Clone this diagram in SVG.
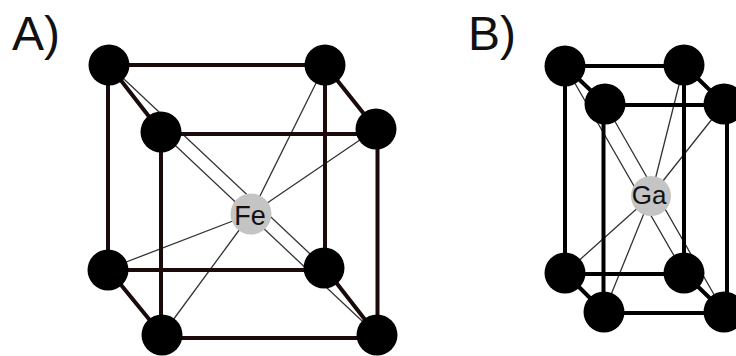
<svg xmlns="http://www.w3.org/2000/svg" width="736" height="356" viewBox="0 0 736 356">
<style>
.thin{stroke:#333;stroke-width:1.3;fill:none}
.a{stroke:#1a0a0a;stroke-width:4;fill:none}
.b{stroke:#000;stroke-width:4;fill:none}
.atom{fill:#000}
.center{fill:#c4c4c4}
text{font-family:"Liberation Sans",Arial,sans-serif;fill:#111}
.big{font-size:48px}
.el{text-anchor:middle}
</style>
<rect width="736" height="356" fill="#fff"/>
<g id="connectors">
<g id="thin-a" class="thin">
<path d="M109 65L324 267M161 132L377 335M325 65L251 214M376 129L251 214M108 269L251 214M162 335L251 214"/>
</g>
<g id="frame-a" class="a">
<path d="M109 65H325M162 134H376M108 270H324M162 338H377"/>
<path d="M108 65V269M325 65V267M161 134V337M377.500 131V337"/>
<path d="M109 65L161 132M325 65L376 129M108 269L162 335M324 267L377 335"/>
</g>
<g id="thin-b" class="thin">
<path d="M565 66L684 273M605 104L724 312M684 65L651 196M724 104L651 196M565 273L651 196M604 312L651 196"/>
</g>
<g id="frame-b" class="b">
<path d="M565 66H684M605 105H724M565 274H684M604 313H724"/>
<path d="M565 66V273M684 65V273M603.500 104V312M727 104V312"/>
<path d="M565 66L605 104M684 65L724 104M565 273L604 312M684 273L724 312"/>
</g>
</g>
<text id="label-a" class="big" x="12" y="50">A)</text>
<text id="label-b" class="big" x="468" y="50">B)</text>
<g id="a-atom-1"><circle class="atom" cx="109" cy="65" r="20.5"/></g>
<g id="a-atom-2"><circle class="atom" cx="325" cy="65" r="20.5"/></g>
<g id="a-atom-3"><circle class="atom" cx="161" cy="132" r="20.5"/></g>
<g id="a-atom-4"><circle class="atom" cx="376" cy="129" r="20.5"/></g>
<g id="a-atom-5"><circle class="atom" cx="108" cy="270" r="20.5"/></g>
<g id="a-atom-6"><circle class="atom" cx="324" cy="268" r="20.5"/></g>
<g id="a-atom-7"><circle class="atom" cx="162" cy="335" r="20.5"/></g>
<g id="a-atom-8"><circle class="atom" cx="377" cy="335" r="20.5"/></g>
<g id="fe"><circle class="center" cx="251" cy="214" r="20.5"/><text class="el" font-size="27" x="250" y="225">Fe</text></g>
<g id="b-atom-1"><circle class="atom" cx="565" cy="66" r="20.5"/></g>
<g id="b-atom-2"><circle class="atom" cx="684" cy="65" r="20.5"/></g>
<g id="b-atom-3"><circle class="atom" cx="605" cy="104" r="20.5"/></g>
<g id="b-atom-4"><circle class="atom" cx="724" cy="104" r="20.5"/></g>
<g id="b-atom-5"><circle class="atom" cx="565" cy="273" r="20.5"/></g>
<g id="b-atom-6"><circle class="atom" cx="684" cy="273" r="20.5"/></g>
<g id="b-atom-7"><circle class="atom" cx="604" cy="312" r="20.5"/></g>
<g id="b-atom-8"><circle class="atom" cx="724" cy="312" r="20.5"/></g>
<g id="ga"><circle class="center" cx="651" cy="196" r="20"/><text class="el" font-size="26" x="649" y="204">Ga</text></g>
</svg>
